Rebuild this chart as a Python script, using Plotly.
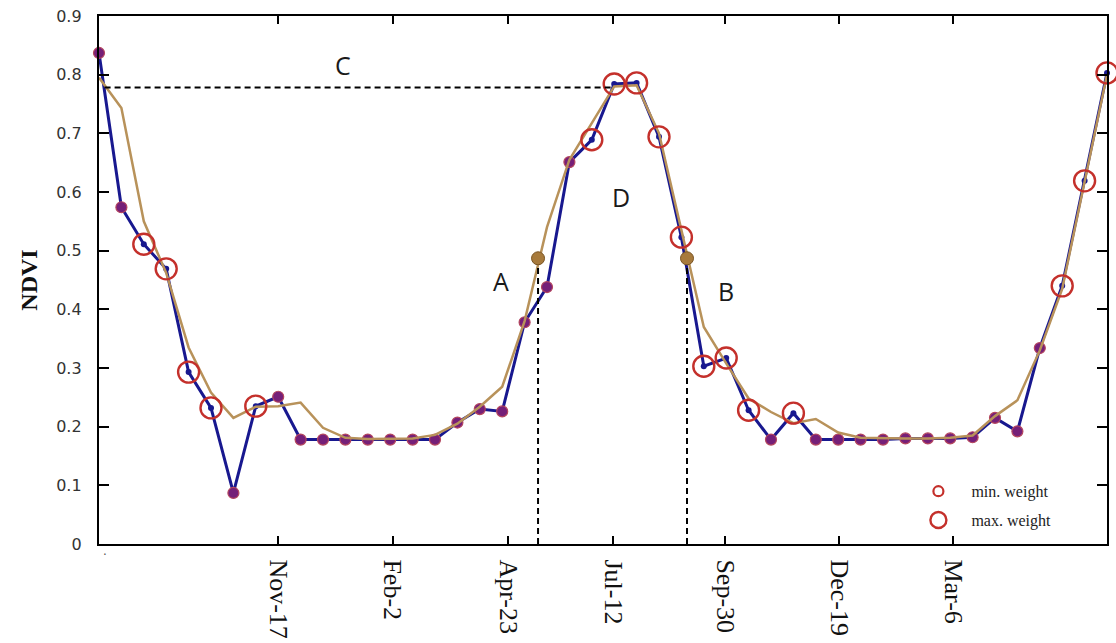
import plotly.graph_objects as go

# ---------------- data ----------------
period_index = list(range(46))

ndvi_observed = [0.837, 0.574, 0.511, 0.469, 0.293, 0.232, 0.087, 0.235, 0.251,
                 0.178, 0.178, 0.178, 0.178, 0.178, 0.178, 0.178,
                 0.207, 0.230, 0.226, 0.378, 0.438, 0.651, 0.689, 0.784, 0.786,
                 0.694, 0.523, 0.303, 0.317, 0.228, 0.178, 0.223,
                 0.178, 0.178, 0.178, 0.178, 0.180, 0.180, 0.180, 0.182,
                 0.215, 0.192, 0.334, 0.440, 0.619, 0.803]

ndvi_fitted = [0.795, 0.743, 0.550, 0.462, 0.335, 0.258, 0.215, 0.234, 0.235,
               0.241, 0.198, 0.181, 0.179, 0.179, 0.180, 0.186, 0.205, 0.234,
               0.268, 0.380, 0.540, 0.655, 0.717, 0.780, 0.782, 0.700, 0.535,
               0.370, 0.308, 0.248, 0.225, 0.206, 0.213, 0.190, 0.181, 0.180,
               0.180, 0.180, 0.181, 0.185, 0.218, 0.245, 0.330, 0.435, 0.617,
               0.800]

# 1 = max. weight point, 0 = min. weight point
max_weight_flag = [0, 0, 1, 1, 1, 1, 0, 1, 0,
                   0, 0, 0, 0, 0, 0, 0,
                   0, 0, 0, 0, 0, 0, 1, 1, 1,
                   1, 1, 1, 1, 1, 0, 1,
                   0, 0, 0, 0, 0, 0, 0, 0,
                   0, 0, 0, 1, 1, 1]

tick_positions = [7.99, 13.12, 18.26, 22.95, 27.95, 33.04, 38.13]
tick_labels = ["Nov-17", "Feb-2", "Apr-23", "Jul-12", "Sep-30", "Dec-19", "Mar-6"]

# season markers (A = start, B = end, C = peak level)
season_x = [19.6, 26.25]
season_y = [0.487, 0.487]
peak_line_x = [0.25, 23.0]
peak_line_y = [0.778, 0.778]

label_text = ["A", "B", "C", "D"]
label_x = [17.95, 28.0, 10.9, 23.3]
label_y = [0.448, 0.432, 0.816, 0.592]

# ---------------- figure ----------------
fig = go.Figure()

min_x = [x for x, f in zip(period_index, max_weight_flag) if f == 0]
min_y = [y for y, f in zip(ndvi_observed, max_weight_flag) if f == 0]
max_x = [x for x, f in zip(period_index, max_weight_flag) if f == 1]
max_y = [y for y, f in zip(ndvi_observed, max_weight_flag) if f == 1]

# blue observed line
fig.add_trace(go.Scatter(x=period_index, y=ndvi_observed, mode="lines+markers",
                         line=dict(color="#18188f", width=3),
                         marker=dict(color="#18188f", size=6),
                         cliponaxis=False, showlegend=False, hoverinfo="skip"))
# min weight points (purple filled)
fig.add_trace(go.Scatter(x=min_x, y=min_y, mode="markers",
                         marker=dict(color="#751f78", size=11,
                                     line=dict(color="#b4465e", width=1.2)),
                         cliponaxis=False, showlegend=False, hoverinfo="skip"))
# fitted tan curve
fig.add_trace(go.Scatter(x=period_index, y=ndvi_fitted, mode="lines",
                         line=dict(color="#b8925a", width=2.5),
                         cliponaxis=False, showlegend=False, hoverinfo="skip"))
# max weight points (red open circles)
fig.add_trace(go.Scatter(x=max_x, y=max_y, mode="markers",
                         marker=dict(symbol="circle-open", color="#c4302b", size=21,
                                     line=dict(width=2.4)),
                         cliponaxis=False, showlegend=False, hoverinfo="skip"))

# dashed reference lines
fig.add_trace(go.Scatter(x=peak_line_x, y=peak_line_y, mode="lines",
                         line=dict(color="black", width=2, dash="6px,4px"),
                         showlegend=False, hoverinfo="skip"))
for sx, sy in zip(season_x, season_y):
    fig.add_trace(go.Scatter(x=[sx, sx], y=[0, sy], mode="lines",
                             line=dict(color="black", width=2, dash="6px,4px"),
                             showlegend=False, hoverinfo="skip"))
# season start / end points
fig.add_trace(go.Scatter(x=season_x, y=season_y, mode="markers",
                         marker=dict(color="#a77a3c", size=13,
                                     line=dict(color="#7a5524", width=1)),
                         showlegend=False, hoverinfo="skip"))

# legend-only entries
fig.add_trace(go.Scatter(x=[None], y=[None], mode="markers", name="min. weight",
                         legendgroup="a",
                         marker=dict(symbol="circle-open", color="#c4302b", size=10,
                                     line=dict(width=2.2))))
fig.add_trace(go.Scatter(x=[None], y=[None], mode="markers", name="max. weight",
                         legendgroup="b",
                         marker=dict(symbol="circle-open", color="#c4302b", size=18,
                                     line=dict(width=2.4))))

annotations = []
for t, x, y in zip(label_text, label_x, label_y):
    annotations.append(dict(x=x, y=y, xref="x", yref="y", text=t, showarrow=False,
                            font=dict(family="Open Sans", size=25, color="#1a1a1a")))
annotations.append(dict(x=0.002, y=-0.03, xref="paper", yref="paper", text=".",
                        showarrow=False, font=dict(family="DejaVu Sans", size=12, color="#555")))

fig.update_layout(
    width=1116, height=643,
    margin=dict(l=99, r=9, t=16, b=99, autoexpand=False),
    paper_bgcolor="white", plot_bgcolor="white",
    showlegend=True,
    legend=dict(x=0.800, y=0.132, xanchor="left", yanchor="top",
                bgcolor="rgba(0,0,0,0)", itemwidth=56, itemsizing="trace",
                tracegroupgap=5,
                font=dict(family="Liberation Serif", size=16, color="#222")),
    annotations=annotations,
)

fig.update_xaxes(range=[0, 45], showgrid=False, zeroline=False, automargin=False,
                 showline=True, linecolor="black", linewidth=2.4, mirror="ticks",
                 ticks="inside", ticklen=8, tickwidth=2, tickcolor="black",
                 tickmode="array", tickvals=tick_positions, ticktext=tick_labels,
                 tickangle=90, ticklabelstandoff=8,
                 tickfont=dict(family="Liberation Serif", size=26, color="#111"))
fig.update_yaxes(range=[0, 0.9], showgrid=False, zeroline=False, automargin=False,
                 showline=True, linecolor="black", linewidth=2.4, mirror="ticks",
                 ticks="inside", ticklen=10, tickwidth=2, tickcolor="black",
                 tickmode="array", tickvals=[0, 0.1, 0.2, 0.3, 0.4, 0.5, 0.6, 0.7, 0.8, 0.9],
                 ticktext=["0", "0.1", "0.2", "0.3", "0.4", "0.5", "0.6", "0.7", "0.8", "0.9"],
                 ticklabelstandoff=12,
                 tickfont=dict(family="DejaVu Sans", size=16, color="#333"),
                 title=dict(text="<b>NDVI</b>", standoff=12,
                            font=dict(family="Liberation Serif", size=24, color="#111")))

fig.write_html("out.html", config={"displayModeBar": False},
               post_script="document.body.style.margin='0px';")
